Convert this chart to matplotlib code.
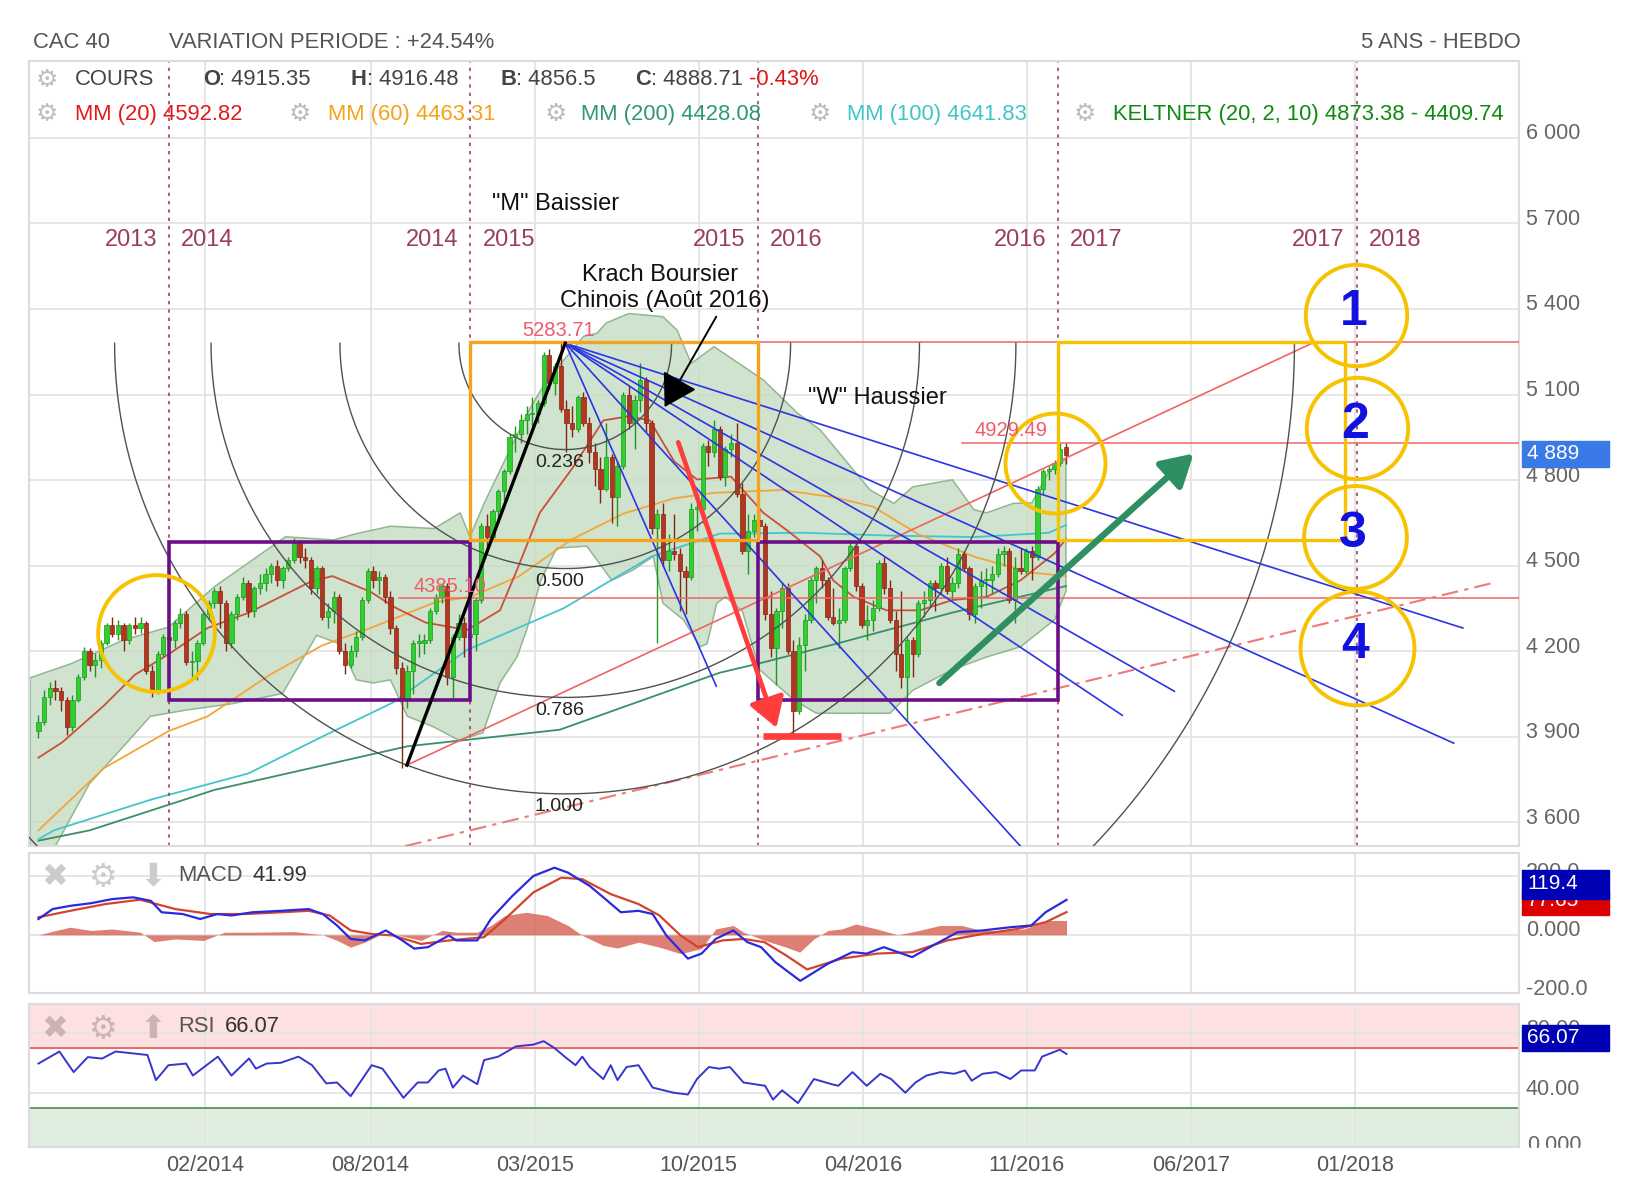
"""CAC 40 - 5 ans hebdo: chandeliers, Keltner, moyennes mobiles, MACD, RSI
et les annotations de l'analyste (boites, eventail, arcs de Fibonacci)."""

import matplotlib
matplotlib.use("Agg")
import matplotlib.pyplot as plt  # noqa: E402
import numpy as np  # noqa: E402
from matplotlib.patches import Rectangle  # noqa: E402

plt.rcParams["font.family"] = ["Liberation Sans", "DejaVu Sans"]

# ---- weekly candles, week 0 = week ending 26/07/2013 ----
OPENS = [
    3920, 3950, 4040, 4070, 4060, 4030, 3935, 4030, 4110, 4200, 4150, 4170, 4230, 4290, 4260, 4290,
    4240, 4290, 4280, 4300, 4130, 4060, 4190,
    4250, 4240, 4300, 4330, 4160, 4165, 4230, 4330, 4370, 4410, 4370, 4230, 4330, 4390, 4440, 4340,
    4420, 4440, 4470, 4500, 4450, 4490, 4520, 4580, 4530, 4520, 4420, 4490, 4320, 4340, 4390, 4200,
    4150, 4200, 4250, 4380, 4480, 4450, 4460, 4390, 4280, 4140, 4030, 4130, 4230, 4230, 4240, 4340,
    4390, 4430, 4110, 4250,
    4300, 4250, 4260, 4380, 4640, 4600, 4690, 4760, 4830, 4950, 4960, 5010, 5030, 5030, 5070, 5240,
    5140, 5200, 5050, 5000, 4980, 5090, 5000, 4900, 4840, 4770, 4880, 4740, 4850, 5100, 5000, 5080,
    5150, 5000, 4630, 4680, 4520, 4550, 4540, 4480, 4460, 4700, 4700, 4920, 4900, 4980, 4810, 4910,
    4930, 4750, 4550, 4620,
    4660, 4640, 4330, 4210, 4340, 4420, 4200, 3990, 4220, 4310, 4450, 4490, 4450, 4320, 4300, 4310,
    4490, 4570, 4430, 4290, 4310, 4350, 4510, 4420, 4310, 4190, 4110, 4240, 4190, 4370, 4380, 4440,
    4420, 4500, 4410, 4440, 4540, 4490, 4330, 4430, 4450, 4450, 4470, 4540, 4550, 4380, 4490, 4480,
    4550, 4530, 4770, 4830, 4840,
    4860, 4915.35,
]
HIGHS = [
    3975, 4065, 4090, 4100, 4075, 4040, 4045, 4120, 4215, 4210, 4195, 4240, 4300, 4320, 4310, 4300,
    4300, 4320, 4320, 4305, 4150, 4200, 4260,
    4275, 4310, 4350, 4340, 4200, 4240, 4340, 4380, 4420, 4430, 4380, 4340, 4400, 4460, 4450, 4430,
    4470, 4490, 4510, 4520, 4500, 4530, 4595, 4590, 4560, 4530, 4500, 4500, 4370, 4410, 4400, 4230,
    4220, 4270, 4390, 4490, 4500, 4480, 4470, 4410, 4290, 4160, 4150, 4240, 4260, 4260, 4350, 4400,
    4440, 4440, 4260, 4330,
    4320, 4290, 4390, 4650, 4680, 4700, 4770, 4840, 4960, 4990, 5030, 5060, 5090, 5080, 5250, 5260,
    5210, 5283.71, 5080, 5060, 5100, 5110, 5020, 4930, 4880, 5000, 4890, 4870, 5110, 5130, 5100, 5210,
    5160, 5010, 4700, 4720, 4610, 4680, 4560, 4500, 4720, 4720, 4930, 4940, 5010, 4990, 4920, 4960,
    5000, 4790, 4680, 4680,
    4700, 4650, 4410, 4350, 4440, 4440, 4240, 4250, 4330, 4460, 4500, 4520, 4460, 4420, 4350, 4500,
    4590, 4580, 4440, 4360, 4380, 4520, 4530, 4450, 4340, 4410, 4250, 4250, 4380, 4410, 4450, 4450,
    4510, 4530, 4460, 4560, 4550, 4500, 4440, 4480, 4490, 4500, 4560, 4570, 4560, 4530, 4560, 4560,
    4570, 4780, 4840, 4850, 4870,
    4930, 4929.49,
]
LOWS = [
    3895, 3940, 4010, 4030, 3990, 3905, 3920, 4020, 4100, 4130, 4110, 4140, 4220, 4250, 4240, 4200,
    4225, 4260, 4265, 4120, 4040, 4050, 4180,
    4200, 4210, 4280, 4150, 4110, 4100, 4220, 4310, 4350, 4280, 4200, 4210, 4310, 4380, 4320, 4320,
    4400, 4410, 4440, 4430, 4420, 4480, 4510, 4510, 4490, 4400, 4400, 4310, 4280, 4300, 4190, 4120,
    4140, 4180, 4240, 4370, 4420, 4400, 4370, 4260, 4120, 3789, 4000, 4050, 4180, 4190, 4230, 4330,
    4370, 4080, 4030, 4240,
    4180, 4140, 4200, 4370, 4550, 4590, 4650, 4730, 4820, 4900, 4930, 4960, 4990, 5000, 5060, 5120,
    5100, 5040, 4900, 4950, 4970, 4990, 4860, 4780, 4720, 4760, 4650, 4640, 4840, 4980, 4910, 5040,
    4970, 4610, 4230, 4500, 4480, 4520, 4340, 4330, 4450, 4620, 4650, 4850, 4880, 4800, 4780, 4880,
    4740, 4540, 4470, 4600,
    4600, 4310, 4180, 4080, 4280, 4190, 3892, 3980, 4130, 4300, 4370, 4420, 4310, 4290, 4210, 4300,
    4480, 4410, 4280, 4240, 4270, 4340, 4400, 4300, 4130, 4070, 3955, 4110, 4180, 4320, 4350, 4340,
    4400, 4400, 4380, 4420, 4480, 4310, 4300, 4350, 4390, 4400, 4460, 4500, 4370, 4300, 4470, 4470,
    4450, 4520, 4750, 4800, 4820,
    4850, 4856.5,
]
CLOSES = [
    3950, 4040, 4070, 4060, 4030, 3935, 4030, 4110, 4200, 4150, 4170, 4230, 4290, 4260, 4290, 4240,
    4290, 4280, 4300, 4130, 4060, 4190, 4250,
    4240, 4300, 4330, 4160, 4165, 4230, 4330, 4370, 4410, 4370, 4230, 4330, 4390, 4440, 4340, 4420,
    4440, 4470, 4500, 4450, 4490, 4520, 4580, 4530, 4520, 4420, 4490, 4320, 4340, 4390, 4200, 4150,
    4200, 4250, 4380, 4480, 4450, 4460, 4390, 4280, 4140, 4030, 4130, 4230, 4230, 4240, 4340, 4390,
    4430, 4110, 4250, 4300,
    4250, 4260, 4380, 4640, 4600, 4690, 4760, 4830, 4950, 4960, 5010, 5030, 5030, 5070, 5240, 5140,
    5200, 5050, 5000, 4980, 5090, 5000, 4900, 4840, 4770, 4880, 4740, 4850, 5100, 5000, 5080, 5150,
    5000, 4630, 4680, 4520, 4550, 4540, 4480, 4460, 4700, 4700, 4920, 4900, 4980, 4810, 4910, 4930,
    4750, 4550, 4620, 4660,
    4640, 4330, 4210, 4340, 4420, 4200, 3990, 4220, 4310, 4450, 4490, 4450, 4320, 4300, 4310, 4490,
    4570, 4430, 4290, 4310, 4350, 4510, 4420, 4310, 4190, 4110, 4240, 4190, 4370, 4380, 4440, 4420,
    4500, 4410, 4440, 4540, 4490, 4330, 4430, 4450, 4450, 4470, 4540, 4550, 4380, 4490, 4480, 4550,
    4530, 4770, 4830, 4840, 4860,
    4910, 4888.71,
]

# ---- indicator curves (week, value) ----
MM20_WEEKS = [0, 4.2, 11.5, 17, 23, 29.8, 37.1, 44.4, 48.1, 51.8, 58.5, 62.7, 68.2, 75.5, 81.3,
              84.3, 88.3, 94, 99.5, 104, 107.7, 112, 116, 122, 127.7, 131.9, 137.7, 140, 143.6,
              149.4, 155.3, 161, 167, 173, 179, 181]
MM20_VALUES = [3826, 3880, 4008, 4117, 4190, 4281, 4335, 4408, 4445, 4463, 4408, 4354, 4300, 4274,
               4343, 4485, 4685, 4840, 5009, 5024, 5009, 4865, 4802, 4812, 4685, 4623, 4532, 4448,
               4390, 4343, 4343, 4379, 4390, 4448, 4543, 4592.82]
MM60_WEEKS = [0, 11.5, 23, 29.8, 40.8, 50, 58.5, 70, 76.1, 84.7, 93.8, 103, 112, 119, 131, 140,
              147, 155, 165, 175, 181]
MM60_VALUES = [3571, 3789, 3920, 3971, 4117, 4220, 4281, 4372, 4390, 4463, 4590, 4682, 4736, 4755,
               4765, 4740, 4707, 4610, 4530, 4475, 4463.31]
MM100_WEEKS = [0, 2.7, 20, 37, 50, 62.4, 75.5, 92.5, 108, 120, 135, 150, 165, 178, 181]
MM100_VALUES = [3540, 3571, 3680, 3771, 3900, 4019, 4204, 4350, 4532, 4612, 4615, 4605, 4600,
                4615, 4641.83]
MM200_WEEKS = [0, 9, 31, 65, 91.8, 120, 127, 140.6, 161, 181]
MM200_VALUES = [3535, 3571, 3713, 3866, 3924, 4124, 4157, 4226, 4335, 4428.08]

KELT_UP_WEEKS = [-1.5, 5.9, 15, 22.9, 31, 43.5, 52, 56, 62, 69.7, 74.3, 76, 78.5, 81.3, 86.7,
                 89.6, 93.6, 96, 98.4, 100, 104, 110, 112.5, 115, 119, 127.7, 133.7, 137.7, 146.5,
                 150.7, 154, 161, 164.8, 167, 171.7, 175, 178, 181]
KELT_UP_VALUES = [4106, 4157, 4239, 4284, 4426, 4601, 4590, 4612, 4638, 4630, 4685, 4601, 4718,
                  4834, 5056, 5151, 5246, 5304, 5315, 5351, 5384, 5373, 5326, 5209, 5268, 5151,
                  5035, 4976, 4765, 4718, 4776, 4801, 4696, 4685, 4718, 4720, 4830, 4873.38]
KELT_LOW_WEEKS = [-1.5, 2, 9, 15, 19.7, 26, 34, 43, 49, 53, 56, 59, 62, 65, 69.5, 74, 78.3, 81.3,
                  84.3, 86, 88.5, 91.3, 96.6, 101, 104.8, 108.3, 110, 113.6, 116.6, 117.8, 119.5,
                  121, 124, 127, 133, 137, 150, 154, 161, 167, 173, 179, 181]
KELT_LOW_VALUES = [3440, 3480, 3735, 3866, 3971, 3993, 4015, 4051, 4255, 4226, 4099, 4088, 4099,
                   3971, 3935, 3888, 3913, 4088, 4179, 4274, 4448, 4561, 4568, 4448, 4485, 4532,
                   4368, 4310, 4215, 4226, 4368, 4390, 4340, 4135, 4030, 3982, 3982, 4062, 4135,
                   4179, 4215, 4310, 4409.74]

MACD_WEEKS = [0, 2.5, 5.6, 9.3, 13, 16.7, 19.8, 21.7, 25.4, 28.5, 31.5, 34, 37.7, 42.7, 47.6,
              50.1, 52.6, 55, 57.5, 61.2, 63.7, 66.2, 68.6, 72.3, 73.6, 77.3, 79.7, 83.5, 87.2,
              90.9, 93.3, 97.1, 99.5, 102.6, 105.7, 108.2, 110.6, 114.4, 116.8, 119.3, 122.4,
              124.9, 127.3, 129.8, 134.2, 139.1, 143.4, 145.9, 148.9, 151.4, 153.9, 157.6, 161.9,
              166.3, 171.2, 174.9, 177.4, 181.1]
MACD_VALUES = [54, 88, 99, 108, 122, 128, 116, 77, 71, 54, 71, 66, 77, 82, 88, 71, 32, -14, -19,
               15, -14, -47, -42, -2, -19, -19, 54, 133, 201, 229, 212, 167, 128, 77, 82, 71, -2,
               -81, -64, -14, 15, -25, -42, -93, -157, -98, -59, -64, -42, -59, -76, -36, 9, 15,
               26, 32, 77, 119.4]
SIGNAL_WEEKS = [0, 5.6, 11.8, 17.9, 24.1, 30.3, 36.5, 42.7, 47.6, 51.3, 55, 58.7, 62.4, 67.4,
                72.3, 78.5, 82.2, 87.2, 92.1, 95.8, 100.8, 105.7, 109.4, 113.1, 116.2, 120.5,
                124.2, 127.9, 131.7, 135.4, 141.5, 147.7, 153.9, 160.1, 166.3, 172.4, 177.4, 181.1]
SIGNAL_VALUES = [60, 82, 105, 120, 88, 71, 71, 77, 82, 66, 15, 3, -2, -31, -19, -8, 54, 145, 195,
                 190, 139, 105, 66, -2, -42, -19, -14, -25, -70, -118, -81, -64, -59, -19, 3, 20,
                 43, 77.65]
HIST_WEEKS = [0, 3.1, 5.6, 9.3, 13, 17.9, 20.4, 24.1, 29.1, 32.8, 37.7, 45.1, 50.1, 52.6, 55,
              57.5, 60, 62.4, 67.4, 71.1, 73.6, 77.3, 79.7, 82.2, 85.9, 89.6, 93.3, 95.8, 99.5,
              102, 105.7, 109.4, 113.1, 116.8, 119.3, 122.4, 124.2, 127.9, 131.7, 134.1, 136.6,
              139.1, 141.5, 144, 147.7, 151.4, 155.1, 158.8, 162.6, 166.3, 170, 173.7, 177.4, 181.1]
HIST_VALUES = [0, 15, 26, 15, 20, 9, -23, -14, -19, 9, 9, 11, 0, -19, -42, -25, -2, 3, -19, 15, 9,
               9, 32, 66, 77, 66, 32, -2, -36, -45, -25, -42, -64, -47, 20, 32, 9, -19, -42, -59,
               -14, 15, 20, 37, 20, 0, 15, 32, 32, 15, 15, 20, 49, 49]

RSI_WEEKS = [0, 3.7, 6.2, 8.7, 11.2, 13.6, 19.2, 20.7, 22.9, 26, 27.2, 31.6, 34, 37.1, 38.3, 40.2,
             42.7, 45.8, 48.2, 50.7, 52.6, 55, 58.7, 60.6, 64.3, 66.8, 68.6, 70.5, 71.7, 73, 74.8,
             77.3, 78.5, 81, 84.1, 87.2, 89, 90.9, 92.7, 94.6, 95.8, 97.1, 99.5, 100.8, 102,
             103.6, 105.7, 108.2, 110.7, 111.9, 114.4, 116, 118.1, 119.9, 121.8, 124.2, 126.1,
             128, 129.4, 131, 133.8, 136.6, 139.7, 140.9, 143.4, 145.9, 148.3, 150.2, 152.7,
             154.5, 156.4, 158.9, 161.3, 163.2, 164.4, 166.3, 168.7, 171.2, 173.1, 175.5, 176.8,
             179.9, 181.1]
RSI_VALUES = [59.7, 67.7, 54, 64, 63, 67.7, 65.4, 48.7, 58.6, 59.7, 51.7, 64.3, 51.7, 63.1, 56.3,
              59.7, 60.2, 64.3, 58.6, 46.5, 47.1, 38, 58.6, 56.3, 36.9, 47.1, 47.1, 55.1, 56.3,
              43.7, 51.7, 46, 62, 64.3, 71.1, 72.3, 74.6, 70, 64.3, 58.6, 64.3, 57.4, 49.4, 58.6,
              48.7, 57.4, 58.6, 43.7, 41.4, 40.3, 39.1, 49.4, 57.4, 56.3, 57.4, 47.1, 46, 44.9,
              35.7, 41.9, 33.4, 49.4, 46, 44.9, 54, 44.9, 52.9, 49.4, 40.3, 47.1, 51.7, 54, 52.9,
              55.1, 48.3, 52.9, 54, 49.4, 55.1, 55.1, 64.3, 68.9, 66.07]

# ---- axis furniture ----
TICK_WEEKS = [29.4, 58.5, 87.4, 116.3, 145.2, 174.1, 203.0, 231.9]
TICK_LABELS = ["02/2014", "08/2014", "03/2015", "10/2015", "04/2016", "11/2016", "06/2017",
               "01/2018"]
YEAR_BREAKS = [23.0, 76.1, 126.7, 179.6, 232.2]
YEAR_PAIRS = [("2013", "2014"), ("2014", "2015"), ("2015", "2016"), ("2016", "2017"),
              ("2017", "2018")]
PRICE_TICKS = [3600, 3900, 4200, 4500, 4800, 5100, 5400, 5700, 6000]

XLIM = (-1.65, 260.8)
MAIN_YLIM = (3516, 6269)
MACD_YLIM = (-200, 278)
RSI_YLIM = (4.1, 99.4)

# ---- annotations drawn by the analyst ----
APEX = (92.8, 5280.0)
SWING_LOW = (64.9, 3800.0)
FAN_END_WEEKS = [119.4, 173.6, 190.9, 200.1, 249.3, 250.9]
FAN_END_PRICES = [4077, 3502, 3975, 4059, 3877, 4281]
FIB_RATIOS = [0.236, 0.5, 0.786, 1.0, 1.618]
FIB_LABELS = ["0.236", "0.500", "0.786", "1.000"]
LEVELS = [5283.71, 4385.10, 4929.49]
LEVEL_START = [76.1, 63.6, 162.6]
LEVEL_TEXT_POS = [(91.6, 5326), (72.4, 4426), (171.4, 4973)]
TARGET_POS = [(232.1, 5380), (232.3, 4984), (231.9, 4601), (232.3, 4212)]
TARGET_SIZE = [73, 73, 74, 82]

GREEN, GREEN_EDGE = "#2ecf2e", "#1f961f"
RED, RED_EDGE = "#b5361e", "#842512"
YELLOW = "#f7c300"
PURPLE = "#6b0f86"
ORANGE = "#f5a21c"
ANN_RED = "#ff3d3d"
LINE_RED = "#f06464"
FAN_BLUE = "#2b35e3"
GRID = "#e4e4e4"
TXT = "#555555"

REF_W, REF_H = 1568.0, 1154.0  # layout grid of the reference screenshot


def fx(x):
    return x / REF_W


def fy(y):
    return 1.0 - y / REF_H


fig = plt.figure(figsize=(16.28, 11.98), dpi=100)
left, right = fx(28), fx(1463)
ax = fig.add_axes([left, fy(815), right - left, fy(59) - fy(815)])
ax_macd = fig.add_axes([left, fy(957), right - left, fy(822) - fy(957)])
ax_rsi = fig.add_axes([left, fy(1105), right - left, fy(967) - fy(1105)])

for a in (ax, ax_macd, ax_rsi):
    a.set_xlim(XLIM)
    a.set_xticks(TICK_WEEKS)
    a.tick_params(length=0, labelleft=False, labelbottom=False)
    a.grid(True, color=GRID, lw=1.3)
    a.set_axisbelow(True)
    for s in a.spines.values():
        s.set_color("#dcdcdc")
        s.set_linewidth(1.5)

ax.set_ylim(MAIN_YLIM)
ax.set_yticks(PRICE_TICKS)
ax_macd.set_ylim(MACD_YLIM)
ax_macd.set_yticks([-200, 0, 200])
ax_rsi.set_ylim(RSI_YLIM)
ax_rsi.set_yticks([40, 80])


def right_label(a, value, text):
    a.annotate(text, xy=(1, value), xycoords=("axes fraction", "data"), xytext=(7, 4),
               textcoords="offset pixels", ha="left", va="center", fontsize=15.5,
               color="#666666", annotation_clip=False)


for p in PRICE_TICKS:
    right_label(ax, p, f"{p // 1000} {p % 1000:03d}")
for v, t in zip([200, 0, -200], ["200.0", "0.000", "-200.0"]):
    right_label(ax_macd, v, t)
for v, t in zip([80, 40], ["80.00", "40.00"]):
    right_label(ax_rsi, v, t)
fig.text(fx(1471), fy(1103), "0.000", fontsize=15.5, color="#666666", va="center")
fig.add_artist(Rectangle((fx(1464), fy(1125)), fx(104), fy(1106) - fy(1125),
                         transform=fig.transFigure, color="white", zorder=4))

for w, t in zip(TICK_WEEKS, TICK_LABELS):
    ax_rsi.annotate(t, xy=(w, 0), xycoords=("data", "axes fraction"), xytext=(0, -18),
                    textcoords="offset pixels", ha="center", va="center", fontsize=15.5,
                    color=TXT, annotation_clip=False)

# ---- main panel ----
weeks = np.arange(len(CLOSES))
o, h, lo, c = (np.asarray(v, float) for v in (OPENS, HIGHS, LOWS, CLOSES))
rising = c >= o

ax.fill(np.concatenate([KELT_UP_WEEKS, KELT_LOW_WEEKS[::-1]]),
        np.concatenate([KELT_UP_VALUES, KELT_LOW_VALUES[::-1]]),
        facecolor="#c4dcc4", alpha=0.8, edgecolor="#7ea87e", lw=1.1, zorder=1)

ax.plot(MM200_WEEKS, MM200_VALUES, color="#3a8f6a", lw=1.3, zorder=2)
ax.plot(MM100_WEEKS, MM100_VALUES, color="#45c4cc", lw=1.3, zorder=2)
ax.plot(MM60_WEEKS, MM60_VALUES, color="#f3a53a", lw=1.3, zorder=2)
ax.plot(MM20_WEEKS, MM20_VALUES, color="#c9503c", lw=1.3, zorder=2)

ax.vlines(weeks, lo, h, colors=np.where(rising, GREEN_EDGE, RED_EDGE), lw=1.0, zorder=3)
ax.bar(weeks, np.maximum(np.abs(c - o), 4), bottom=np.minimum(o, c), width=0.75,
       color=np.where(rising, GREEN, RED), edgecolor=np.where(rising, GREEN_EDGE, RED_EDGE),
       lw=0.5, zorder=4)

for brk in YEAR_BREAKS:
    ax.axvline(brk, color="#a0406a", lw=1.2, ls=(0, (2, 3)), zorder=2)
for brk, (before, after) in zip(YEAR_BREAKS, YEAR_PAIRS):
    for txt, dx, ha in ((before, -12, "right"), (after, 12, "left")):
        ax.annotate(txt, xy=(brk, 5642), xytext=(dx, 0), textcoords="offset pixels",
                    ha=ha, va="center", fontsize=17, color="#9b3d62")

# horizontal levels and trend lines
for lvl, start in zip(LEVELS, LEVEL_START):
    ax.plot([start, XLIM[1]], [lvl, lvl], color=LINE_RED, lw=1.1, zorder=5)
for (tx, ty), lvl in zip(LEVEL_TEXT_POS, LEVELS):
    ax.text(tx, ty, f"{lvl:.2f}", color="#f05a6a", fontsize=14.5, ha="center", va="center",
            zorder=10)
ax.plot([SWING_LOW[0], 224.6], [SWING_LOW[1], 5282], color=LINE_RED, lw=1.2, zorder=5)
ax.plot([64.6, 256.6], [3516, 4441], color="#f07878", lw=1.5, ls=(0, (8, 3, 2, 3)), zorder=5)


# boxes
def box(w0, w1, p0, p1, color, lw):
    ax.add_patch(Rectangle((w0, p0), w1 - w0, p1 - p0, fill=False, edgecolor=color, lw=lw,
                           zorder=7))


box(23.0, 76.1, 4030, 4583, PURPLE, 2.6)
box(126.7, 179.6, 4030, 4583, PURPLE, 2.6)
box(76.1, 126.7, 4590, 5283.71, ORANGE, 2.4)
box(179.6, 230.2, 4590, 5283.71, YELLOW, 2.4)

# fan from the top and Fibonacci arcs (circles in screen space)
for ew, ep in zip(FAN_END_WEEKS, FAN_END_PRICES):
    ax.plot([APEX[0], ew], [APEX[1], ep], color=FAN_BLUE, lw=1.2, zorder=6)
ax.plot([SWING_LOW[0], APEX[0]], [SWING_LOW[1], APEX[1]], color="black", lw=2.4, zorder=7)

bb = ax.get_window_extent()
sx = bb.width / (XLIM[1] - XLIM[0])
sy = bb.height / (MAIN_YLIM[1] - MAIN_YLIM[0])
radius = np.hypot((APEX[0] - SWING_LOW[0]) * sx, (APEX[1] - SWING_LOW[1]) * sy)
theta = np.linspace(np.pi, 2 * np.pi, 400)
for k in FIB_RATIOS:
    ax.plot(APEX[0] + k * radius * np.cos(theta) / sx, APEX[1] + k * radius * np.sin(theta) / sy,
            color="#505050", lw=1.0, zorder=6)
for k, lab in zip(FIB_RATIOS, FIB_LABELS):
    ax.annotate(lab, xy=(APEX[0], APEX[1] - k * radius / sy), xytext=(-6, -13),
                textcoords="offset pixels", ha="center", va="center", fontsize=14,
                color="#222222", zorder=10)

# circles
ax.plot(20.7, 4263, "o", ms=84, mfc="none", mec=YELLOW, mew=2.8, zorder=8)
ax.plot(179.1, 4860, "o", ms=72, mfc="none", mec=YELLOW, mew=2.8, zorder=8)
for i, ((tw, tp), ms) in enumerate(zip(TARGET_POS, TARGET_SIZE), start=1):
    ax.plot(tw, tp, "o", ms=ms, mfc="none", mec=YELLOW, mew=2.8, zorder=8, clip_on=False)
    ax.text(tw - 0.4, tp + 8, str(i), fontsize=36, fontweight="bold", color="#1212e0",
            ha="center", va="center", zorder=10)

# arrows
ax.annotate("", xy=(130.0, 3931), xytext=(112.7, 4932),
            arrowprops=dict(arrowstyle="-|>,head_length=0.9,head_width=0.55", color=ANN_RED,
                            lw=3.4, mutation_scale=20, shrinkA=0, shrinkB=0), zorder=9)
ax.plot([127.7, 141.4], [3902, 3902], color=ANN_RED, lw=4.8, solid_capstyle="butt", zorder=9)
ax.annotate("", xy=(203.5, 4893), xytext=(158.7, 4088),
            arrowprops=dict(arrowstyle="-|>,head_length=0.95,head_width=0.55", color="#2f8f62",
                            lw=4.6, mutation_scale=20, shrinkA=0, shrinkB=0), zorder=9)
ax.annotate("", xy=(110.3, 5056), xytext=(119.4, 5373),
            arrowprops=dict(arrowstyle="-|>,head_length=1.0,head_width=0.6", color="black",
                            lw=1.4, mutation_scale=20, shrinkA=0, shrinkB=0), zorder=9)

for txt, tw, tp in [('"M" Baissier', 91.1, 5770), ('"W" Haussier', 147.8, 5086),
                    ("Krach Boursier", 109.5, 5519), ("Chinois (Août 2016)", 110.3, 5428)]:
    ax.text(tw, tp, txt, fontsize=17, color="#111111", ha="center", va="center", zorder=10)

# ---- MACD panel ----
ax_macd.fill_between(HIST_WEEKS, 0, HIST_VALUES, color="#d9695c", alpha=0.85, lw=0, zorder=2)
ax_macd.plot(SIGNAL_WEEKS, SIGNAL_VALUES, color="#d2452d", lw=1.6, zorder=3)
ax_macd.plot(MACD_WEEKS, MACD_VALUES, color="#2a2ae0", lw=1.6, zorder=4)

# ---- RSI panel ----
ax_rsi.axhspan(70, RSI_YLIM[1], color="#fde0e0", zorder=0)
ax_rsi.axhspan(RSI_YLIM[0], 30, color="#e0eee0", zorder=0)
ax_rsi.axhline(70, color="#e86868", lw=1.4, zorder=1)
ax_rsi.axhline(30, color="#5f9f5f", lw=1.4, zorder=1)
ax_rsi.plot(RSI_WEEKS, RSI_VALUES, color="#3636cc", lw=1.4, zorder=3)

# ---- header / legends ----
HDR = 15.8
fig.text(fx(32), fy(41), "CAC 40", fontsize=HDR, color=TXT, va="center")
fig.text(fx(163), fy(41), "VARIATION PERIODE : +24.54%", fontsize=HDR, color=TXT, va="center")
fig.text(fx(1465), fy(41), "5 ANS - HEBDO", fontsize=HDR, color=TXT, va="center", ha="right")

GEAR = "\u2699"
for gx, gy in [(45, 77), (45, 110), (289, 110), (535, 110), (790, 110), (1045, 110)]:
    fig.text(fx(gx), fy(gy), GEAR, fontsize=18, color="#bdbdbd", ha="center", va="center")

fig.text(fx(72), fy(77), "COURS", fontsize=HDR, color="#444444", va="center")
for letter, lx, value in [("O", 196, ": 4915.35"), ("H", 338, ": 4916.48"),
                          ("B", 482, ": 4856.5"), ("C", 612, ": 4888.71")]:
    fig.text(fx(lx), fy(77), letter, fontsize=HDR, color="#444444", va="center",
             fontweight="bold")
    fig.text(fx(lx + 15), fy(77), value, fontsize=HDR, color="#444444", va="center")
fig.text(fx(721), fy(77), "-0.43%", fontsize=HDR, color="#e01414", va="center")

for lx, txt, col in [(72, "MM (20) 4592.82", "#e31a1a"), (316, "MM (60) 4463.31", "#f5a21c"),
                     (560, "MM (200) 4428.08", "#2e9a6c"), (816, "MM (100) 4641.83", "#40c6c8"),
                     (1072, "KELTNER (20, 2, 10) 4873.38 - 4409.74", "#0f8a0f")]:
    fig.text(fx(lx), fy(110), txt, fontsize=HDR, color=col, va="center")

for ix, sym in [(53, "\u2716"), (100, GEAR), (147, "\u2b07")]:
    fig.text(fx(ix), fy(846), sym, fontsize=23, color="#cccccc", ha="center", va="center")
    fig.text(fx(ix), fy(992), sym if sym != "\u2b07" else "\u2b06", fontsize=23,
             color="#cdb4b4", ha="center", va="center")
fig.text(fx(172), fy(843), "MACD", fontsize=HDR, color=TXT, va="center")
fig.text(fx(243), fy(843), "41.99", fontsize=HDR, color="#333333", va="center")
fig.text(fx(172), fy(989), "RSI", fontsize=HDR, color=TXT, va="center")
fig.text(fx(217), fy(989), "66.07", fontsize=HDR, color="#333333", va="center")


def value_box(y0, y1, color, text, ty, z):
    fig.add_artist(Rectangle((fx(1466), fy(y1)), fx(1550) - fx(1466), fy(y0) - fy(y1),
                             transform=fig.transFigure, color=color, zorder=z))
    fig.text(fx(1471), fy(ty), text, fontsize=15, color="white", va="center", zorder=z + 0.5)


value_box(425, 450, "#3a7ae6", "4 889", 437, 5)
value_box(858, 881, "#dd0000", "77.65", 867, 5)
value_box(838, 866, "#0000b4", "119.4", 851, 7)
value_box(987, 1012, "#0000b4", "66.07", 999.5, 5)

fig.savefig("out.png", dpi=100, facecolor="white")
